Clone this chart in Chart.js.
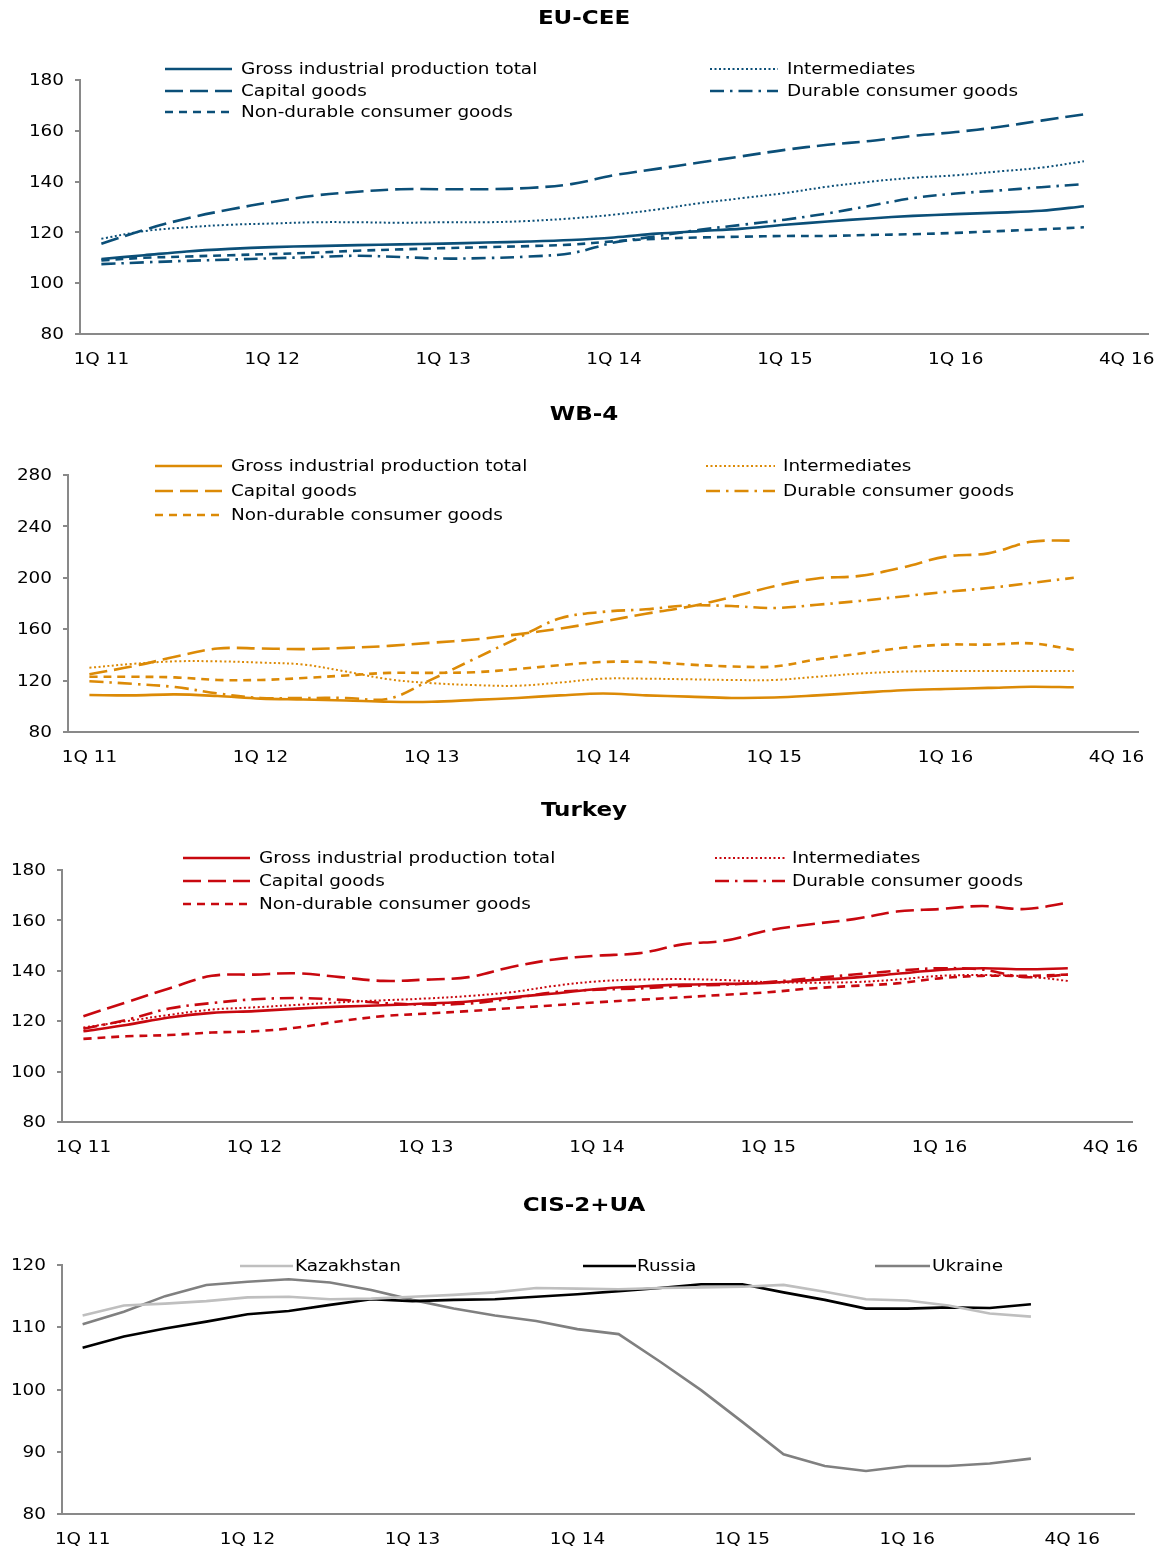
<!DOCTYPE html>
<html>
<head>
<meta charset="utf-8">
<script src="https://cdn.jsdelivr.net/npm/chart.js@4.4.1/dist/chart.umd.min.js"></script>
<style>
  html, body { margin: 0; padding: 0; background: #fff; }
  body { width: 1161px; height: 1551px; position: relative; overflow: hidden; }
  canvas { position: absolute; left: 0; }
</style>
</head>
<body>
<canvas id="chartEU" width="1161" height="395" style="top:0"></canvas>
<canvas id="chartWB" width="1161" height="395" style="top:395px"></canvas>
<canvas id="chartTR" width="1161" height="395" style="top:790px"></canvas>
<canvas id="chartCIS" width="1161" height="366" style="top:1185px"></canvas>
<script>
// quarters 1Q 11 .. 4Q 16, plus one empty slot where Excel put the last label
const axisLabels = ['1Q 11', '', '', '', '1Q 12', '', '', '', '1Q 13', '', '', '', '1Q 14', '', '', '',
                    '1Q 15', '', '', '', '1Q 16', '', '', '', '4Q 16'];
const axisLabelsCis = ['1Q 11', '', '', '', '1Q 12', '', '', '', '1Q 13', '', '', '', '1Q 14', '', '', '',
                       '1Q 15', '', '', '', '1Q 16', '', '', '', '4Q 16', ''];

const seriesNames = ['Gross industrial production total', 'Intermediates', 'Capital goods',
                     'Durable consumer goods', 'Non-durable consumer goods'];

// EU-CEE
const euGross   = [109.5, 111, 112.5, 113.5, 114.2, 114.6, 115, 115.3, 115.6, 116, 116.4, 117, 118, 119.5, 120.5, 121.5, 123, 124.3, 125.5, 126.5, 127.2, 127.8, 128.5, 130.3];
const euInter   = [117.5, 120.5, 122, 123, 123.5, 124, 124, 123.8, 124, 124, 124.5, 125.5, 127, 129, 131.5, 133.5, 135.5, 138, 140, 141.5, 142.5, 144, 145.5, 148];
const euCapital = [115.5, 121, 125.5, 129, 132, 134.5, 136, 137, 137, 137, 137.5, 139, 142.5, 145, 147.5, 150, 152.5, 154.5, 156, 158, 159.5, 161.5, 164, 166.5];
const euDurable = [107.5, 108.2, 108.8, 109.3, 109.8, 110.3, 110.8, 110.3, 109.7, 109.9, 110.5, 111.8, 116, 118.5, 121, 123, 125, 127.5, 130.5, 133.5, 135.3, 136.5, 137.8, 139];
const euNonDur  = [109, 110, 110.5, 111, 111.5, 112, 112.8, 113.3, 113.8, 114.2, 114.6, 115.2, 116.5, 117.5, 118, 118.3, 118.6, 118.6, 119, 119.3, 119.8, 120.5, 121.2, 122];

// WB-4
const wbGross   = [108.8, 108.5, 109.3, 108, 106, 105.3, 104.5, 103.5, 103.5, 105, 106.5, 108.5, 110, 108.5, 107.5, 106.5, 106.8, 108.5, 110.5, 112.5, 113.5, 114.3, 115.2, 114.8];
const wbInter   = [130, 133, 135, 135, 134, 132.5, 127, 121, 118, 116.5, 116, 118.5, 121.5, 121.5, 121, 120.5, 120.5, 123, 125.5, 127, 127.5, 127.5, 127.5, 127.5];
const wbCapital = [125, 131, 138.5, 145, 145, 144.5, 145.5, 147, 149.5, 152, 156, 160.5, 166, 172, 177.5, 185, 193.5, 199.5, 201.5, 208, 216.5, 219, 228, 229];
const wbDurable = [119.5, 117.5, 115, 110, 106.5, 106.5, 106.5, 106, 121, 137, 153, 168.5, 173.5, 175.5, 178.5, 178, 176.5, 179, 182, 185.5, 189, 192, 196, 200];
const wbNonDur  = [123, 123, 122.5, 120.5, 120.5, 122, 124, 126, 126, 126.5, 129, 132, 134.5, 134.5, 132.5, 131, 131, 136.5, 141, 145.5, 148, 148, 149, 144];

// Turkey
const trGross   = [116, 118.5, 121.5, 123.3, 124, 125, 125.8, 126.3, 127, 127.8, 129.5, 131, 132.8, 133.8, 134.5, 134.8, 135.2, 136.3, 137.3, 138.8, 140.3, 141, 140.6, 141];
const trInter   = [117.5, 120, 122.5, 124.6, 125.5, 126.5, 127.5, 128.3, 129, 130, 131.5, 134, 135.8, 136.5, 136.7, 136.3, 135.5, 135.3, 135.5, 136.5, 138, 138.3, 137.8, 136];
const trCapital = [122, 127.5, 133, 138, 138.5, 139, 137.5, 136, 136.5, 137.5, 141.5, 144.5, 146, 147, 150.5, 152, 156, 158.5, 160.5, 163.5, 164.5, 165.7, 164.5, 167];
const trDurable = [117, 120.5, 125, 127.2, 128.7, 129.2, 128.5, 127.2, 126.6, 127, 129, 131.5, 132.5, 133, 134, 134.5, 135.5, 137, 138.5, 140, 141, 140.5, 137.5, 138.5];
const trNonDur  = [113, 114, 114.5, 115.5, 116, 117.5, 120, 122, 123, 124, 125.2, 126.3, 127.5, 128.5, 129.5, 130.5, 131.5, 133, 134, 135, 137, 138, 138, 138.5];

// CIS-2+UA
const cisNames = ['Kazakhstan', 'Russia', 'Ukraine'];
const kazakhstan = [111.9, 113.5, 113.8, 114.2, 114.8, 114.9, 114.5, 114.6, 114.9, 115.2, 115.6, 116.3, 116.2, 116.1, 116.3, 116.4, 116.5, 116.8, 115.7, 114.5, 114.3, 113.5, 112.2, 111.7];
const russia     = [106.7, 108.5, 109.8, 110.9, 112.1, 112.6, 113.6, 114.5, 114.2, 114.4, 114.5, 114.9, 115.3, 115.8, 116.3, 116.9, 116.9, 115.6, 114.4, 113.0, 113.0, 113.2, 113.1, 113.7];
const ukraine    = [110.5, 112.5, 115, 116.8, 117.3, 117.7, 117.2, 116, 114.4, 113.0, 111.9, 111, 109.7, 108.9, 104.5, 99.9, 94.8, 89.6, 87.7, 86.9, 87.7, 87.7, 88.1, 88.9];

const FONT = '"DejaVu Sans", "Liberation Sans", Arial, sans-serif';
const AXIS_GREY = '#898989';
const STRETCH = 1.15;   // the original's lettering is a bit wide

function wideText(ctx, text, x, y, align) {
    ctx.save();
    ctx.translate(x, y);
    ctx.scale(STRETCH, 1);
    ctx.textAlign = align;
    ctx.fillText(text, 0, 0);
    ctx.restore();
}

// title, tick labels and hand placed legend (Excel style 2 column grid)
const panelDecor = {
    id: 'panelDecor',
    afterDraw(chart, args, opts) {
        const ctx = chart.ctx;
        const xs = chart.scales.x, ys = chart.scales.y;
        ctx.save();
        ctx.fillStyle = '#000';
        ctx.textBaseline = 'middle';

        ctx.font = 'bold 20px ' + FONT;
        wideText(ctx, opts.title, 584, opts.titleY, 'center');

        ctx.font = '16px ' + FONT;
        xs.ticks.forEach((t, i) => {
            const lbl = chart.data.labels[i];
            if (lbl) wideText(ctx, lbl, xs.getPixelForTick(i), xs.top + 26, 'center');
        });
        ys.ticks.forEach(t => {
            wideText(ctx, String(t.value), ys.right - 16, ys.getPixelForValue(t.value) + 1, 'right');
        });

        opts.items.forEach(item => {
            const ds = chart.data.datasets[item.index];
            ctx.strokeStyle = ds.borderColor;
            ctx.lineWidth = ds.borderWidth;
            ctx.setLineDash(ds.borderDash || []);
            ctx.beginPath();
            ctx.moveTo(item.x1, item.y);
            ctx.lineTo(item.x2, item.y);
            ctx.stroke();
            ctx.setLineDash([]);
            wideText(ctx, ds.label, item.tx, item.y + 1, 'left');
        });
        ctx.restore();
    }
};

function fiveSeries(color, values) {
    const dashes = [[], [2, 2.5], [18, 7], [14, 6, 2.5, 6], [8, 6]];
    return values.map((v, i) => ({
        label: seriesNames[i],
        data: v,
        borderColor: color,
        borderWidth: i === 1 ? 2 : 2.6,
        borderDash: dashes[i],
        tension: 0.35,
        pointRadius: 0,
        fill: false
    }));
}

function makeChart(id, labels, datasets, y, box, decor) {
    return new Chart(document.getElementById(id), {
        type: 'line',
        data: { labels: labels, datasets: datasets },
        options: {
            responsive: false,
            animation: false,
            layout: { padding: { top: 80, left: 0, right: 1161 - box.right, bottom: 0 } },
            plugins: {
                legend: { display: false },
                tooltip: { enabled: false },
                panelDecor: decor
            },
            scales: {
                x: {
                    offset: true,
                    grid: { display: false, drawTicks: false },
                    border: { display: true, color: AXIS_GREY, width: 2 },
                    ticks: { display: false, autoSkip: false },
                    afterFit: s => { s.height = box.height - box.bottom; }
                },
                y: {
                    min: y.min, max: y.max,
                    grid: { display: true, drawOnChartArea: false, drawTicks: true, tickLength: 5, color: AXIS_GREY, lineWidth: 2 },
                    border: { display: true, color: AXIS_GREY, width: 2 },
                    ticks: { display: false, stepSize: y.step },
                    afterFit: s => { s.width = box.left; }
                }
            }
        },
        plugins: [panelDecor]
    });
}

function gridLegend(rows, col1, col2) {
    return [
        { index: 0, x1: col1[0], x2: col1[1], tx: col1[2], y: rows[0] },
        { index: 2, x1: col1[0], x2: col1[1], tx: col1[2], y: rows[1] },
        { index: 4, x1: col1[0], x2: col1[1], tx: col1[2], y: rows[2] },
        { index: 1, x1: col2[0], x2: col2[1], tx: col2[2], y: rows[0] },
        { index: 3, x1: col2[0], x2: col2[1], tx: col2[2], y: rows[1] }
    ];
}

const euColor = '#0b4f78';
const wbColor = '#dc8a06';
const trColor = '#c8080f';

makeChart('chartEU', axisLabels,
    fiveSeries(euColor, [euGross, euInter, euCapital, euDurable, euNonDur]),
    { min: 80, max: 180, step: 20 },
    { height: 395, left: 80, right: 1148, bottom: 334 },
    { title: 'EU-CEE', titleY: 19, items: gridLegend([69, 91, 112], [165, 232, 241], [710, 778, 787]) });

makeChart('chartWB', axisLabels,
    fiveSeries(wbColor, [wbGross, wbInter, wbCapital, wbDurable, wbNonDur]),
    { min: 80, max: 280, step: 40 },
    { height: 395, left: 68, right: 1138, bottom: 337 },
    { title: 'WB-4', titleY: 20, items: gridLegend([71, 96, 120], [155, 222, 231], [706, 775, 783]) });

makeChart('chartTR', axisLabels,
    fiveSeries(trColor, [trGross, trInter, trCapital, trDurable, trNonDur]),
    { min: 80, max: 180, step: 20 },
    { height: 395, left: 62, right: 1132, bottom: 332 },
    { title: 'Turkey', titleY: 21, items: gridLegend([68, 91, 114], [183, 250, 259], [715, 785, 792]) });

const cisColors = ['#bfbfbf', '#000000', '#808080'];
const cisDatasets = [kazakhstan, russia, ukraine].map((v, i) => ({
    label: cisNames[i],
    data: v,
    borderColor: cisColors[i],
    borderWidth: 2.6,
    tension: 0,
    pointRadius: 0,
    fill: false
}));

makeChart('chartCIS', axisLabelsCis, cisDatasets,
    { min: 80, max: 120, step: 10 },
    { height: 366, left: 62, right: 1134, bottom: 329 },
    { title: 'CIS-2+UA', titleY: 21, items: [
        { index: 0, x1: 240, x2: 293, tx: 295, y: 81 },
        { index: 1, x1: 583, x2: 636, tx: 637, y: 81 },
        { index: 2, x1: 875, x2: 930, tx: 932, y: 81 }
    ] });
</script>
</body>
</html>
